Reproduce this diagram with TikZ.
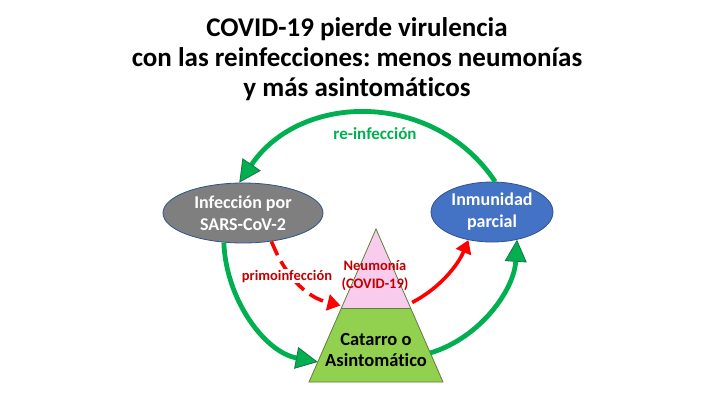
\documentclass[tikz,border=0pt]{standalone}
\usepackage{fontspec}
\setmainfont{Carlito}[Ligatures=NoCommon]
\usetikzlibrary{arrows.meta,shapes.geometric,calc}
\definecolor{grn}{HTML}{00B050}
\definecolor{grnd}{HTML}{1E7145}
\definecolor{rd}{HTML}{FF0000}
\definecolor{drd}{HTML}{C00000}
\definecolor{gry}{HTML}{7F7F7F}
\definecolor{blu}{HTML}{4472C4}
\definecolor{bord}{HTML}{2F528F}
\definecolor{pnk}{RGB}{249,204,238}
\definecolor{lgrn}{HTML}{92D050}
\definecolor{triedge}{HTML}{5E7F3A}
\frenchspacing
\begin{document}
\begin{tikzpicture}[x=1pt,y=-1pt,
  titletext/.style={font=\bfseries\fontsize{27}{30}\selectfont, anchor=base, inner sep=0pt},
  oval/.style={ellipse, draw=bord, line width=0.8pt, inner sep=0pt, text=white, align=center, font=\bfseries\fontsize{18}{22}\selectfont},
  garrow/.style={draw=grn, line width=4.8pt, -{Triangle[length=22pt,width=22pt,line width=0.8pt,color=grnd,fill=grn]}},
  rarrow/.style={draw=rd, line width=3.6pt, -{Triangle[length=13pt,width=16pt]}},
  lbl/.style={inner sep=0pt, anchor=base, font=\bfseries},
]
\fill[white] (0,0) rectangle (720,405);
\useasboundingbox (0,0) rectangle (720,405);

% title
\node[titletext] (t1) at (357,36) {COVID-19 pierde virulencia};
\node[titletext] (t2) at (357,66) {con las reinfecciones: menos neumonías};
\node[titletext] (t3) at (357,96) {y más asintomáticos};

% ellipses
\node[oval, fill=gry, minimum width=160pt, minimum height=60pt] (grey) at (243,213) {Infección por\\SARS-CoV-2};
\node[oval, fill=blu, minimum width=122pt, minimum height=60pt] (blue) at (492,212) {Inmunidad\\parcial};

% triangle
\coordinate (apex) at (376,229);
\coordinate (bl) at (309,382);
\coordinate (br) at (443,382);
\coordinate (ml) at ($(apex)!0.516!(bl)$);
\coordinate (mr) at ($(apex)!0.516!(br)$);
\fill[lgrn] (ml) -- (mr) -- (br) -- (bl) -- cycle;
\fill[pnk] (apex) -- (mr) -- (ml) -- cycle;
\draw[triedge, line width=0.8pt, line join=miter] (apex) -- (br) -- (bl) -- cycle;
\draw[triedge, line width=0.8pt] (ml) -- (mr);

\node[lbl, text=drd, font=\bfseries\fontsize{14.5}{17}\selectfont] (neu1) at (375,270) {Neumonía};
\node[lbl, text=drd, font=\bfseries\fontsize{14.5}{17}\selectfont] (neu2) at (375,288) {(COVID-19)};
\node[lbl, font=\bfseries\fontsize{18.5}{22}\selectfont] (cat1) at (376,345) {Catarro o};
\node[lbl, font=\bfseries\fontsize{18.5}{22}\selectfont] (cat2) at (376,366) {Asintomático};

% green cycle
\draw[garrow] (blue.84) .. controls (434,90) and (301,92) .. (grey.97);
\node[lbl, text=grn, font=\bfseries\fontsize{17}{20}\selectfont] (reinf) at (375,139) {re-infección};
\draw[garrow] (grey.237) .. controls (226,300) and (265,352) .. ($(apex)!0.869!(bl)$);
\draw[garrow] ($(apex)!0.81!(br)$) .. controls (480,338) and (514,290) .. (blue.312);

% red arrows
\draw[rarrow, dash pattern=on 15pt off 7pt] (grey.315) .. controls (285,275) and (305,297) .. ($(apex)!0.5!(bl)+(-2,0)$);
\node[lbl, fill=white, text=drd, font=\bfseries\fontsize{14.5}{17}\selectfont, inner sep=1pt] (primo) at (287,280) {primoinfección};
\draw[rarrow] ($(apex)!0.48!(br)+(4,0)$) .. controls (440,288) and (458,265) .. (blue.230);
\end{tikzpicture}
\end{document}
